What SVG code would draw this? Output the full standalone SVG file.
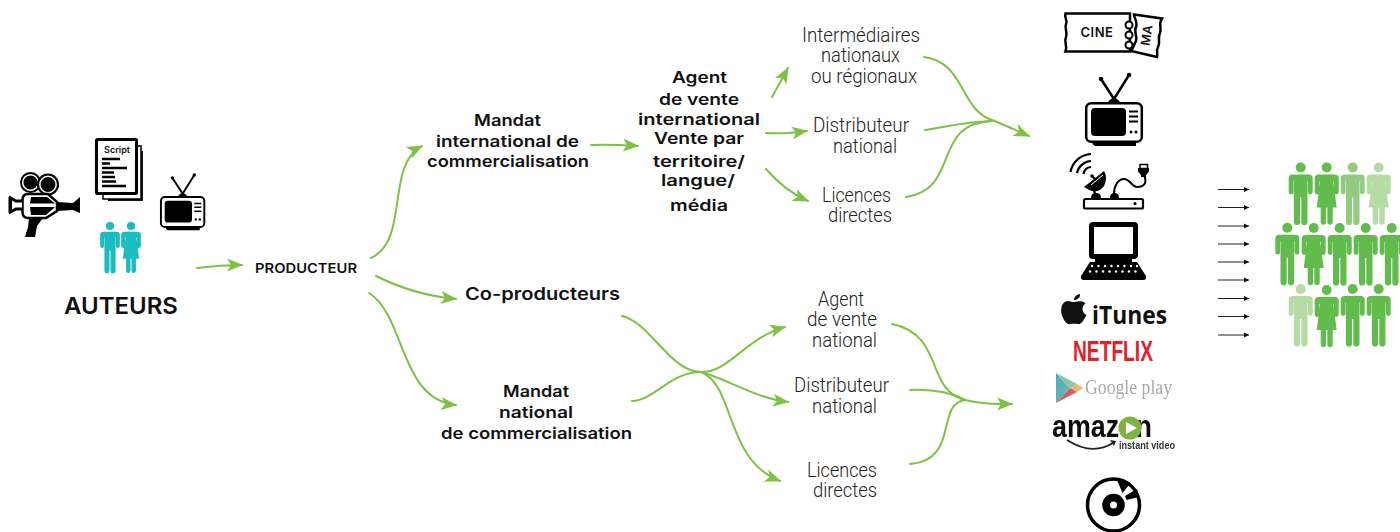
<svg xmlns="http://www.w3.org/2000/svg" xmlns:xlink="http://www.w3.org/1999/xlink" width="1400" height="532" viewBox="0 0 1400 532">
<style>
text{fill:#111}
.b{font-family:"Inter","Liberation Sans",sans-serif;font-weight:600;font-size:16px}
.h{font-family:"Inter","Liberation Sans",sans-serif;font-weight:600}
.l{font-family:"Roboto","Liberation Sans",sans-serif;font-weight:300;font-size:20px;fill:#222}
.c{fill:none;stroke:#7dc242;stroke-width:2;stroke-linecap:round}
.a{marker-end:url(#head)}
.t{fill:none;stroke:#222;stroke-width:1;marker-end:url(#tiny)}
.g0{fill:#62bb4d}.g1{fill:#94cb82}.g2{fill:#b5dca4}.teal{fill:#1bbcc0}
.blur{filter:url(#soft)}
</style>
<defs>
<marker id="head" markerUnits="userSpaceOnUse" markerWidth="18" markerHeight="16" viewBox="-1 -8 18 16" refX="15" refY="0" orient="auto"><path d="M0 -6.500L16 0L0 6.500L4 0Z" fill="#7dc242"/></marker>
<marker id="tiny" markerUnits="userSpaceOnUse" markerWidth="6" markerHeight="6" viewBox="0 -3 6 6" refX="5" refY="0" orient="auto"><path d="M0 -2.500L5 0L0 2.500Z" fill="#111"/></marker>
<filter id="soft" x="-5%" y="-5%" width="110%" height="110%"><feGaussianBlur stdDeviation="0.6"/></filter>
<symbol id="man" overflow="visible"><circle cx="0" cy="0" r="5"/><path d="M-8 7H8Q12 7 12 11V24.500a2.400 2.400 0 0 1-4.800 0V13.500H6.800V54.500a3.100 3.100 0 0 1-6.200 0V30H-.6V54.500a3.100 3.100 0 0 1-6.200 0V13.500H-7.200V24.500a2.400 2.400 0 0 1-4.800 0V11Q-12 7-8 7Z"/></symbol>
<symbol id="woman" overflow="visible"><circle cx="0" cy="0" r="5"/><path d="M-8 7H8Q12 7 12 11V24.500a2.400 2.400 0 0 1-4.800 0V14H6.500L10 40H6V54.500a2.700 2.700 0 0 1-5.400 0V40H-.6V54.500a2.700 2.700 0 0 1-5.400 0V40H-10L-6.500 14H-7.200V24.500a2.400 2.400 0 0 1-4.800 0V11Q-12 7-8 7Z"/></symbol>
<symbol id="tv" overflow="visible">
<path d="M29 -3L16 -23M29 -3L44 -27" stroke="#000" stroke-width="2.500" fill="none"/><circle cx="16" cy="-23" r="2.300"/><circle cx="44" cy="-27" r="2.300"/><path d="M23 0Q29 -8 35 0Z"/>
<path d="M7 40H51V44H11Q8 44 7 40Z"/>
<rect x="1.200" y="1.200" width="55.600" height="38.600" rx="5" fill="#fff" stroke="#000" stroke-width="2.500"/>
<rect x="6" y="6" width="35" height="28" rx="4"/>
<path d="M44 9.500H53M44 14.500H53M44 19.500H53" stroke="#000" stroke-width="2"/>
<circle cx="46" cy="30" r="1.500"/><circle cx="51" cy="30" r="1.500"/>
</symbol>
<linearGradient id="gpb" x1="0" y1="0" x2="1" y2="1"><stop offset="0" stop-color="#3fb0c8"/><stop offset="1" stop-color="#7fb6a0"/></linearGradient>
</defs>

<g id="connectors">
<path class="c a" d="M197 268C212 266 226 265 242 265"/>
<path class="c a" d="M371 258C410 240 385 165 422 146"/>
<path class="c a" d="M376 276C400 288 425 296 456 299"/>
<path class="c a" d="M369 293C405 315 400 400 456 405"/>
<path class="c a" d="M591 145C606 144 622 145 638 146"/>
<path class="c a" d="M772 97L788 68"/>
<path class="c a" d="M766 133C780 134 793 133 807 131"/>
<path class="c a" d="M766 169C778 183 792 194 808 201"/>
<path class="c a" d="M924 57C965 62 960 110 992 120C1005 125 1015 130 1029 136"/>
<path class="c" d="M925 130C950 126 965 122 992 121"/>
<path class="c" d="M906 197C962 188 930 124 992 121"/>
<path class="c" d="M622 316C650 322 670 372 701 372"/>
<path class="c" d="M632 401C655 400 670 372 701 372"/>
<path class="c a" d="M701 372C730 372 745 338 785 327"/>
<path class="c a" d="M701 372C725 378 755 398 788 402"/>
<path class="c a" d="M701 372C735 385 725 460 780 481"/>
<path class="c a" d="M892 324C945 335 925 390 965 400C980 404 995 404 1012 404"/>
<path class="c" d="M910 390C930 389 950 392 965 400"/>
<path class="c" d="M910 464C960 460 935 404 965 400"/>
</g>

<g id="auteurs">
<g id="camera">
<circle cx="30.500" cy="182.500" r="10.500"/><circle cx="30.500" cy="182.500" r="7.800" fill="none" stroke="#fff" stroke-width="1.500"/>
<circle cx="48" cy="184.500" r="11"/><circle cx="48" cy="184.500" r="8.200" fill="none" stroke="#fff" stroke-width="1.500"/>
<path d="M28 194H48L57 202V211L46 218H28Q22.500 218 22.500 212V200Q22.500 194 28 194Z" fill="#fff" stroke="#000" stroke-width="2.500"/>
<path d="M31 197H47L55 203.500H30ZM30 207H55L46 215H31Z"/>
<path d="M57 202L73 203V210L57 211Z"/><path d="M73 203L80 197V213L73 210Z"/>
<path d="M22 201H16L10.500 198V212L16 209H22" fill="#fff" stroke="#000" stroke-width="3"/><rect x="8.500" y="197" width="3" height="16"/>
<path d="M29 218H43L37 226L35 237H25L28 227Z"/>
</g>
<g id="script">
<rect x="108" y="151" width="35" height="50" fill="#111"/>
<rect x="103" y="146" width="38" height="53" fill="#fff" stroke="#000" stroke-width="1.500"/>
<rect x="96.500" y="139.500" width="40" height="54" rx="1" fill="#fff" stroke="#000" stroke-width="3"/>
<text class="h" x="117" y="153" text-anchor="middle" font-size="9px">Script</text>
<path d="M102 159H120M102 163.500H110M102 168H127M102 172.500H114M102 177H115M102 181.500H116M102 186H126" stroke="#000" stroke-width="2.400"/>
</g>
<use href="#tv" xlink:href="#tv" transform="translate(160 196) scale(.78)"/>
<use class="teal" href="#man" xlink:href="#man" transform="translate(110 226) scale(.82)"/>
<use class="teal" href="#woman" xlink:href="#woman" transform="translate(131 226) scale(.82)"/>
<text class="h" x="64" y="314" font-size="23px" textLength="114" lengthAdjust="spacingAndGlyphs">AUTEURS</text>
</g>

<g id="producteur"><text class="h" x="255" y="273" font-size="13px" textLength="102" lengthAdjust="spacingAndGlyphs">PRODUCTEUR</text></g>
<g id="mandat-international">
<text class="b" x="474" y="126" textLength="67" lengthAdjust="spacingAndGlyphs">Mandat</text>
<text class="b" x="436" y="147" textLength="143" lengthAdjust="spacingAndGlyphs">international de</text>
<text class="b" x="427" y="167" textLength="162" lengthAdjust="spacingAndGlyphs">commercialisation</text>
</g>
<g id="agent-international">
<text class="b" x="672" y="83" textLength="55" lengthAdjust="spacingAndGlyphs">Agent</text>
<text class="b" x="659" y="105" textLength="80" lengthAdjust="spacingAndGlyphs">de vente</text>
<text class="b" x="638" y="125" textLength="122" lengthAdjust="spacingAndGlyphs">international</text>
<text class="b" x="654" y="144" textLength="90" lengthAdjust="spacingAndGlyphs">Vente par</text>
<text class="b" x="653" y="167" textLength="92" lengthAdjust="spacingAndGlyphs">territoire/</text>
<text class="b" x="661" y="186" textLength="74" lengthAdjust="spacingAndGlyphs">langue/</text>
<text class="b" x="670" y="211" textLength="58" lengthAdjust="spacingAndGlyphs">média</text>
</g>
<g id="coproducteurs"><text class="b" x="465" y="300" textLength="155" lengthAdjust="spacingAndGlyphs" style="font-size:17px">Co-producteurs</text></g>
<g id="mandat-national">
<text class="b" x="503" y="397" textLength="66" lengthAdjust="spacingAndGlyphs">Mandat</text>
<text class="b" x="499" y="418" textLength="74" lengthAdjust="spacingAndGlyphs">national</text>
<text class="b" x="441" y="439" textLength="191" lengthAdjust="spacingAndGlyphs">de commercialisation</text>
</g>
<g id="intermediaires">
<text class="l" x="802" y="42" textLength="118" lengthAdjust="spacingAndGlyphs">Intermédiaires</text>
<text class="l" x="821" y="62" textLength="79" lengthAdjust="spacingAndGlyphs">nationaux</text>
<text class="l" x="811" y="83" textLength="106" lengthAdjust="spacingAndGlyphs">ou régionaux</text>
</g>
<g id="distributeur-1">
<text class="l" x="813" y="132" textLength="96" lengthAdjust="spacingAndGlyphs">Distributeur</text>
<text class="l" x="833" y="153" textLength="64" lengthAdjust="spacingAndGlyphs">national</text>
</g>
<g id="licences-1">
<text class="l" x="822" y="202" textLength="69" lengthAdjust="spacingAndGlyphs">Licences</text>
<text class="l" x="828" y="222" textLength="64" lengthAdjust="spacingAndGlyphs">directes</text>
</g>
<g id="agent-national">
<text class="l" x="818" y="306" textLength="46" lengthAdjust="spacingAndGlyphs">Agent</text>
<text class="l" x="807" y="326" textLength="70" lengthAdjust="spacingAndGlyphs">de vente</text>
<text class="l" x="812" y="347" textLength="65" lengthAdjust="spacingAndGlyphs">national</text>
</g>
<g id="distributeur-2">
<text class="l" x="794" y="392" textLength="95" lengthAdjust="spacingAndGlyphs">Distributeur</text>
<text class="l" x="812" y="413" textLength="65" lengthAdjust="spacingAndGlyphs">national</text>
</g>
<g id="licences-2">
<text class="l" x="807" y="477" textLength="70" lengthAdjust="spacingAndGlyphs">Licences</text>
<text class="l" x="813" y="497" textLength="64" lengthAdjust="spacingAndGlyphs">directes</text>
</g>

<g id="cinema">
<path d="M1134 14.500L1162 18.500C1158 24 1162 28 1160 33C1157 38 1161 42 1158 47C1156 51 1158 54 1157 57L1131 51C1134 47 1134 44 1136 41C1138 36 1133 32 1136 27C1138 22 1134 18 1134 14.500Z" fill="#fff" stroke="#000" stroke-width="2.500"/>
<path d="M1065.500 13.500H1130V51.500H1065.500C1068 46 1063.500 42 1066 37C1068 32 1064 28 1066 24C1068 20 1064 18 1065.500 13.500Z" fill="#fff" stroke="#000" stroke-width="2.500"/>
<circle cx="1129" cy="25" r="3.500" fill="#fff" stroke="#000" stroke-width="2"/><circle cx="1129" cy="35" r="3.500" fill="#fff" stroke="#000" stroke-width="2"/><circle cx="1129" cy="45" r="3.500" fill="#fff" stroke="#000" stroke-width="2"/>
<text class="h" x="1097" y="37" text-anchor="middle" font-size="13px" letter-spacing=".5">CINE</text>
<text class="h" transform="translate(1151 36) rotate(-82)" text-anchor="middle" font-size="12.500px">MA</text>
</g>
<use id="television" href="#tv" xlink:href="#tv" transform="translate(1085 102)"/>
<g id="satellite">
<rect x="1084" y="199" width="59" height="9.500" rx="1.500" fill="#fff" stroke="#000" stroke-width="2.200"/>
<circle cx="1135" cy="203.500" r="1.500"/>
<path d="M1091 198Q1091 193 1096 193Q1101 193 1101 198ZM1110 198Q1110 193 1114.500 193Q1119 193 1119 198Z"/>
<path d="M1114 194C1114 186 1118 179 1124 179C1130 179 1132 187 1137 187C1143 187 1148 184 1144 175" fill="none" stroke="#000" stroke-width="2"/>
<path d="M1104 171L1084 187Q1097 196 1104 186Q1108 177 1104 171Z"/><path d="M1091 185L1103 175" stroke="#fff" stroke-width="1"/><path d="M1094 190L1095 194M1092 176L1096 180" stroke="#000" stroke-width="2.200"/><circle cx="1092" cy="176" r="1.800"/>
<path d="M1070.500 172A22 22 0 0 1 1091 154M1077 173A15 15 0 0 1 1091 161M1083.500 174A8.500 8.500 0 0 1 1091 167" fill="none" stroke="#000" stroke-width="2.200"/>
<path d="M1138 168H1149V171.500L1146 175V177H1141V175L1138 171.500Z"/><rect x="1140" y="164.500" width="7.500" height="4" fill="#fff" stroke="#000" stroke-width="1.500"/>
</g>
<g id="laptop">
<rect x="1091.500" y="224.500" width="44" height="32" rx="1.500" fill="#fff" stroke="#000" stroke-width="5"/>
<rect x="1095" y="258" width="37" height="4"/>
<path d="M1090 262H1137L1146 276Q1147 280 1143 280H1084Q1080 280 1081 276Z"/>
<g fill="#fff"><circle cx="1092" cy="266" r="1.200"/><circle cx="1098.500" cy="266" r="1.200"/><circle cx="1105" cy="266" r="1.200"/><circle cx="1111.500" cy="266" r="1.200"/><circle cx="1118" cy="266" r="1.200"/><circle cx="1124.500" cy="266" r="1.200"/><circle cx="1131" cy="266" r="1.200"/><circle cx="1137" cy="266" r="1.200"/>
<circle cx="1090" cy="271.500" r="1.200"/><circle cx="1096.500" cy="271.500" r="1.200"/><circle cx="1103" cy="271.500" r="1.200"/><circle cx="1109.500" cy="271.500" r="1.200"/><circle cx="1116" cy="271.500" r="1.200"/><circle cx="1122.500" cy="271.500" r="1.200"/><circle cx="1129" cy="271.500" r="1.200"/><circle cx="1135.500" cy="271.500" r="1.200"/></g>
</g>
<g id="itunes">
<path d="M1074 302C1071 302 1068 300 1065.500 301.500C1060.500 304 1060 312 1063 318C1065 322 1067.500 325 1070 324C1072 323.500 1075.500 323.500 1078 324C1081 325 1084 320 1086.500 315C1082 313 1081 306 1085.500 303.500C1083 300.500 1079 301 1074 302ZM1074 300C1074 296.500 1077 294.500 1080 294C1080.500 297.500 1077.500 300 1074 300Z" fill="#111"/>
<text x="1092" y="324" font-family="'Open Sans','Liberation Sans',sans-serif" font-weight="700" font-size="25px" textLength="75" lengthAdjust="spacingAndGlyphs">iTunes</text>
</g>
<g id="netflix"><text x="1073" y="361" style="fill:#e1222a" font-family="'Liberation Sans',sans-serif" font-weight="700" font-size="29px" textLength="80" lengthAdjust="spacingAndGlyphs">NETFLIX</text></g>
<g id="googleplay" class="blur">
<path d="M1056 373L1070 388L1056 403Z" fill="url(#gpb)"/>
<path d="M1056 373L1077 384L1070 388Z" fill="#8cc6a0"/>
<path d="M1077 384L1083 388L1077 392L1070 388Z" fill="#e8b76a"/>
<path d="M1056 403L1070 388L1077 392Z" fill="#c8626a"/>
<text x="1085" y="394" style="fill:#a9a9a9" font-family="'Liberation Serif',serif" font-size="20px" textLength="87" lengthAdjust="spacingAndGlyphs">Google play</text>
</g>
<g id="amazon">
<g class="blur">
<text x="1052" y="437" font-family="'Liberation Sans',sans-serif" font-weight="700" font-size="31px" textLength="100" lengthAdjust="spacingAndGlyphs">amazon</text>
<path d="M1067 440Q1092 456 1113 443" fill="none" stroke="#222" stroke-width="1.800"/><path d="M1110 440L1116 441L1114 446Z" fill="#222"/>
<text x="1119" y="449" style="fill:#333" font-family="'Liberation Sans',sans-serif" font-weight="700" font-size="11px" textLength="56" lengthAdjust="spacingAndGlyphs">instant video</text>
<circle cx="1130" cy="428" r="11.500" fill="#7fb23f"/><path d="M1126 422L1137 428L1126 434Z" fill="#fff"/>
</g>
</g>
<g id="disc">
<circle cx="1113.500" cy="505" r="26" fill="#fff" stroke="#000" stroke-width="3.500"/>
<circle cx="1113.500" cy="505" r="11.300"/><circle cx="1113.500" cy="505" r="3.500" fill="#fff"/>
<path d="M1122.500 493L1117 480L1129.500 484.500L1122.500 493ZM1125 496L1137 489L1139 497L1126.500 500Z"/>
</g>

<g id="fleches">
<path class="t" d="M1218 189.500H1249"/><path class="t" d="M1218 207.500H1249"/><path class="t" d="M1218 226H1249"/><path class="t" d="M1218 244H1249"/><path class="t" d="M1218 262H1249"/><path class="t" d="M1218 280H1249"/><path class="t" d="M1218 298.500H1249"/><path class="t" d="M1218 316.500H1249"/><path class="t" d="M1218 335H1249"/>
</g>
<g id="public">
<use class="g0" href="#man" xlink:href="#man" x="1300.700" y="167.500"/>
<use class="g0" href="#woman" xlink:href="#woman" x="1326.700" y="167.500"/>
<use class="g1" href="#man" xlink:href="#man" x="1352.700" y="167.500"/>
<use class="g2" href="#woman" xlink:href="#woman" x="1378.700" y="167.500"/>
<use class="g0" href="#man" xlink:href="#man" x="1287.300" y="227.700"/>
<use class="g0" href="#woman" xlink:href="#woman" x="1313.700" y="228"/>
<use class="g0" href="#man" xlink:href="#man" x="1339.700" y="228"/>
<use class="g0" href="#man" xlink:href="#man" x="1365.700" y="228"/>
<use class="g0" href="#man" xlink:href="#man" x="1391.700" y="228"/>
<use class="g2" href="#man" xlink:href="#man" x="1300.700" y="289"/>
<use class="g0" href="#woman" xlink:href="#woman" x="1326.700" y="290"/>
<use class="g0" href="#man" xlink:href="#man" x="1352.700" y="289"/>
<use class="g0" href="#man" xlink:href="#man" x="1378.700" y="289"/>
</g>
</svg>
